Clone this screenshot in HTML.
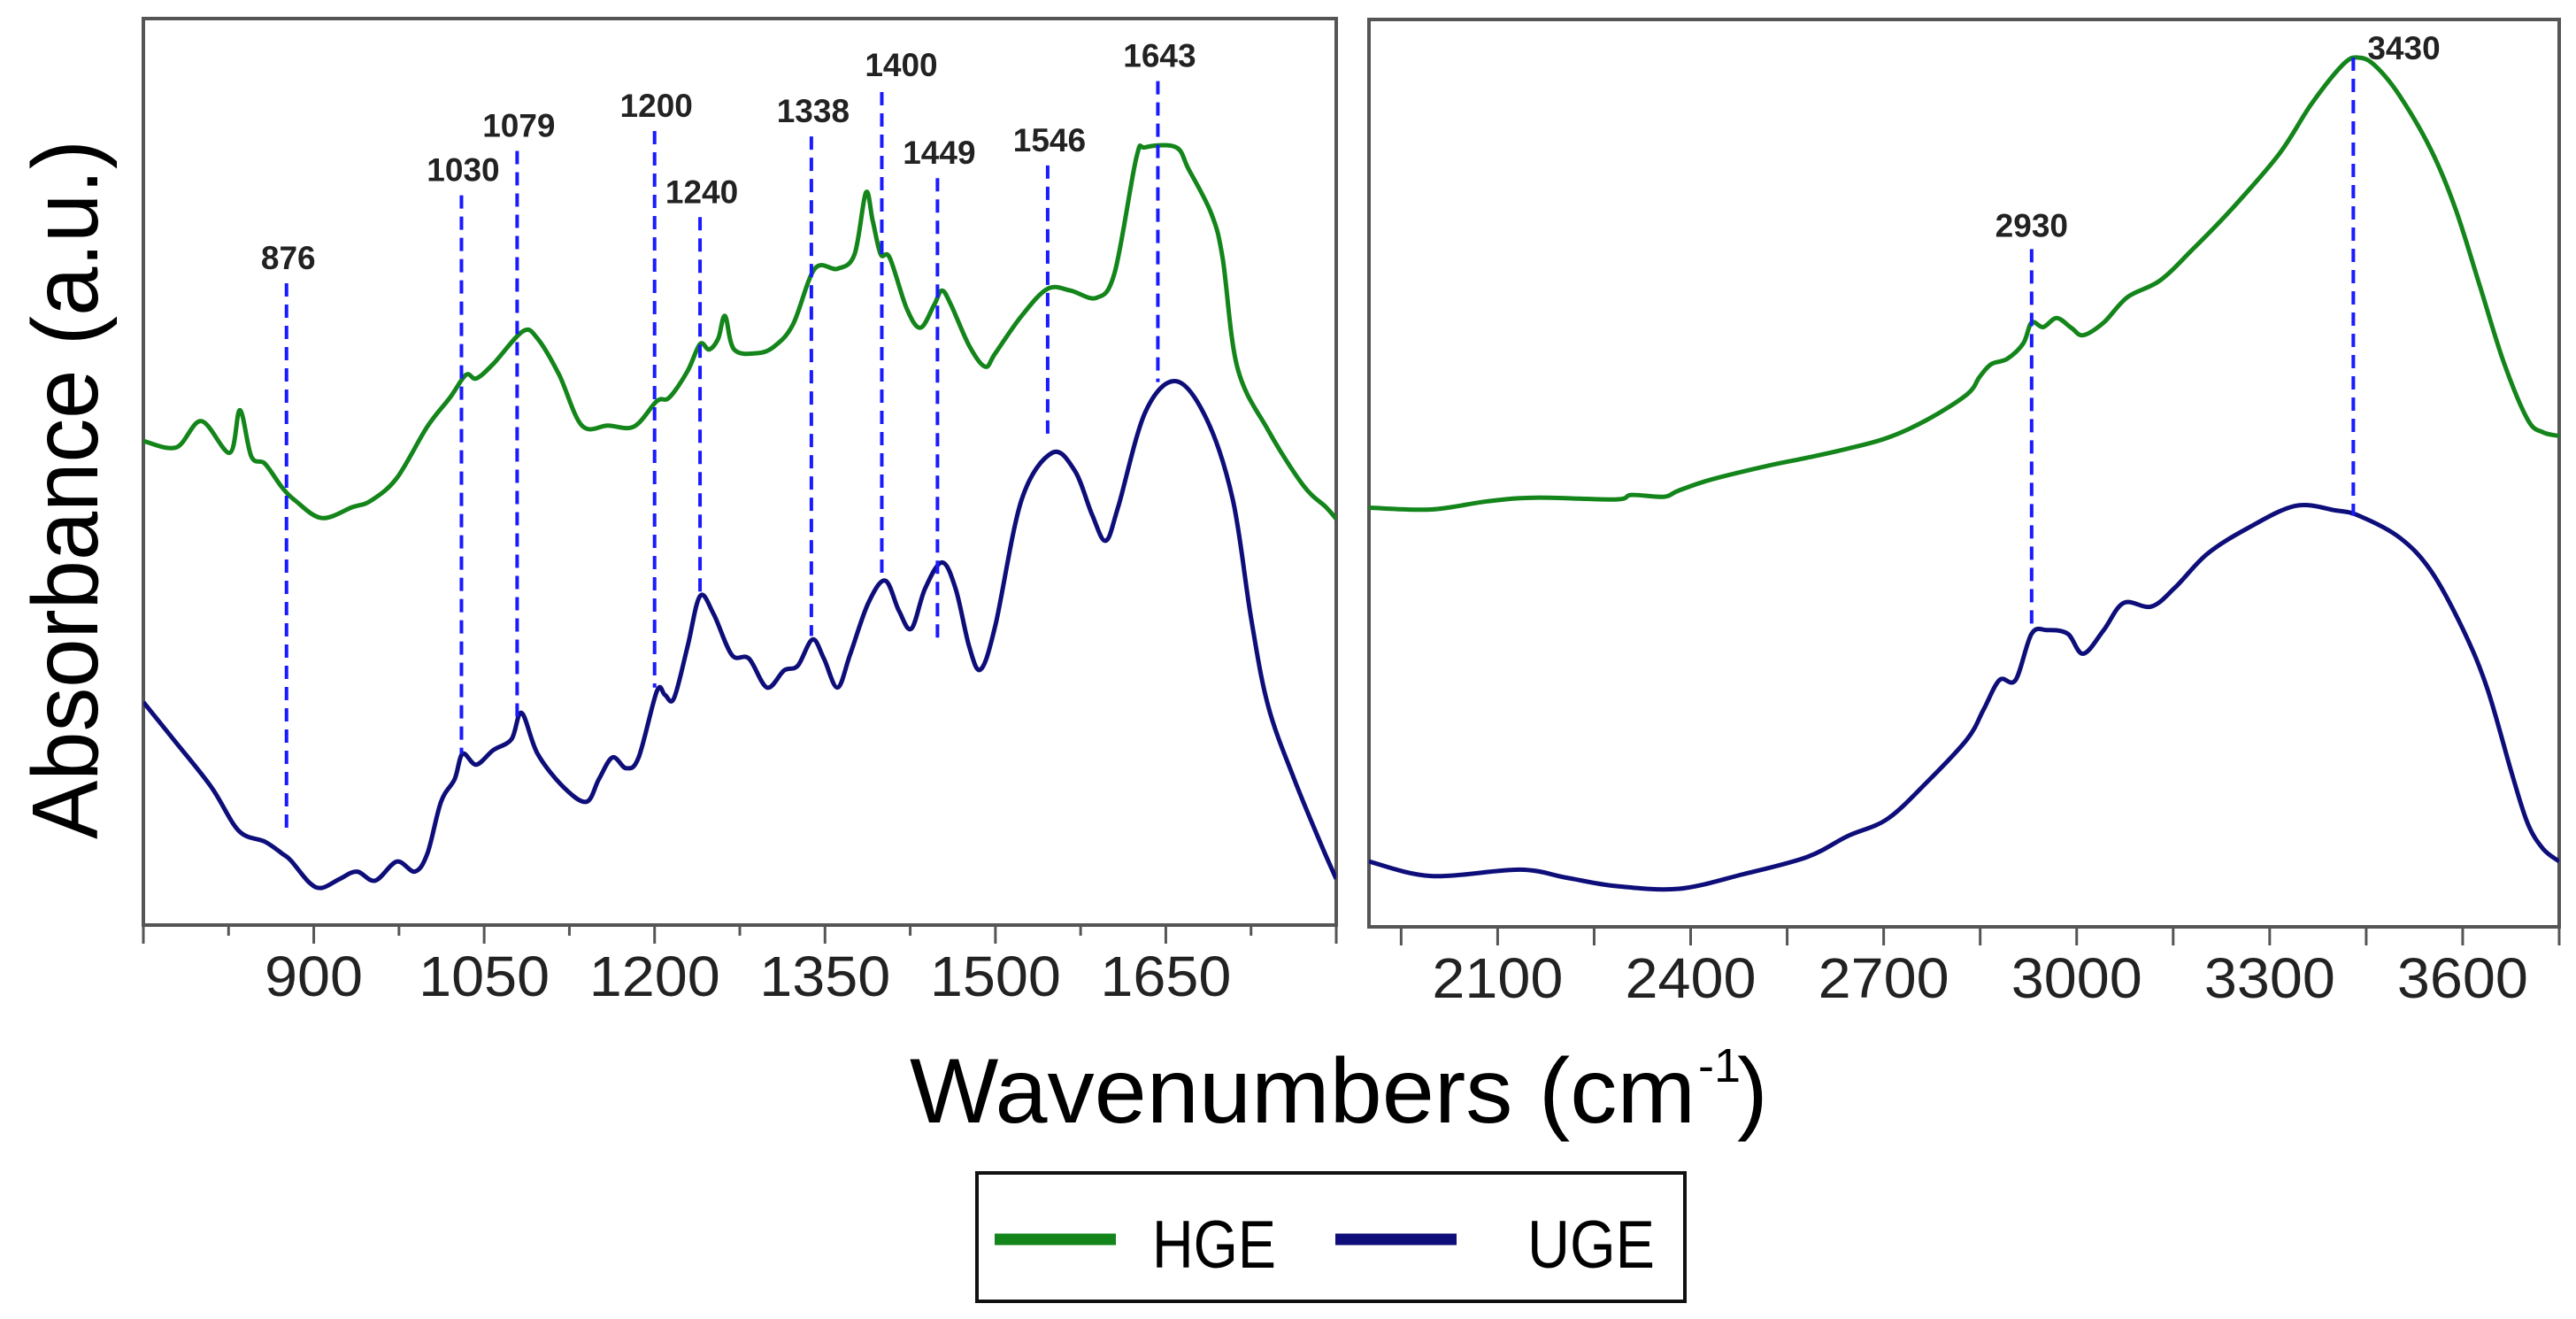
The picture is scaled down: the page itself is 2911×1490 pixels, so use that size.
<!DOCTYPE html>
<html>
<head>
<meta charset="utf-8">
<style>
html,body{margin:0;padding:0;background:#fff;}
svg{display:block;font-family:"Liberation Sans",sans-serif;}
</style>
</head>
<body>
<svg id="chart" width="2911" height="1490" viewBox="0 0 2911 1490" xmlns="http://www.w3.org/2000/svg">
  <rect x="0" y="0" width="2911" height="1490" fill="#fff"/>
  <g id="left-panel"></g>
  <g id="right-panel"></g>
  <text x="0" y="0" transform="translate(110,553) rotate(-90)" text-anchor="middle" font-size="106" fill="#000" textLength="790" lengthAdjust="spacingAndGlyphs">Absorbance (a.u.)</text>
  <text x="1028" y="1268" font-size="104" fill="#000" textLength="888" lengthAdjust="spacingAndGlyphs">Wavenumbers (cm</text>
  <text x="1919" y="1222" font-size="54" fill="#000">-1</text>
  <text x="1963" y="1268" font-size="104" fill="#000">)</text>
  <g>
    <rect x="1104" y="1325" width="800" height="145" fill="#fff" stroke="#111" stroke-width="4"/>
    <line x1="1124" y1="1400" x2="1261" y2="1400" stroke="#13851a" stroke-width="13"/>
    <text x="1302" y="1432" font-size="76" fill="#000" textLength="140" lengthAdjust="spacingAndGlyphs">HGE</text>
    <line x1="1509" y1="1400" x2="1646" y2="1400" stroke="#0e0e7a" stroke-width="13"/>
    <text x="1726" y="1432" font-size="76" fill="#000" textLength="144" lengthAdjust="spacingAndGlyphs">UGE</text>
  </g>
</svg>
<script>
// ---------- data: left panel ----------
const leftHgeX = [750,779,801,826,835,845,857,872,884,907,934,950,973,1000,1020,1034,1043,1058,1084,1097,1116,1136,1159,1182,1202,1213,1229,1240,1248,1256,1262,1270,1291,1306,1322,1341,1361,1376,1386,1392,1399,1407,1422,1434,1446,1453,1461,1477,1491,1500,1523,1546,1566,1589,1605,1624,1632,1659,1670,1690,1700,1713,1740,1771,1791,1800];
const leftHgeY = [53.4,52.7,55.6,52.1,56.8,51.7,50.9,48.3,46.8,44.9,46.1,46.8,49.3,55.0,58.2,60.7,60.3,61.9,65.5,64.7,60.7,55.1,55.1,55.0,57.8,58.2,61.1,64.1,63.5,64.7,67.2,63.5,63.1,63.9,66.3,72.4,72.4,74.0,80.8,77.7,74.0,73.6,68.0,65.9,68.4,70.0,68.4,63.9,61.6,63.1,67.2,70.2,70.0,69.2,72.0,84.6,85.8,85.8,83.4,78.5,73.6,61.5,54.6,48.5,46.1,44.8];
const leftUgeX = [750,779,810,834,857,872,880,896,907,923,938,954,973,989,1000,1012,1024,1031,1043,1058,1074,1083,1097,1120,1140,1151,1163,1175,1186,1202,1209,1217,1229,1240,1252,1268,1283,1299,1314,1326,1339,1349,1361,1372,1388,1403,1415,1426,1438,1453,1465,1477,1487,1500,1523,1550,1570,1585,1597,1608,1632,1659,1686,1709,1725,1740,1763,1787,1800];
const leftUgeY = [24.6,20.1,15.2,10.4,9.2,7.9,7.1,4.7,4.1,5.1,5.9,4.9,7.0,5.9,7.9,13.6,16.1,18.9,17.7,19.3,20.5,23.4,18.9,15.2,13.6,16.1,18.5,17.3,18.5,25.8,25.4,25.0,30.7,36.3,34.3,29.8,29.4,26.2,28.1,28.6,31.5,29.4,26.2,29.8,35.5,38.0,34.7,32.7,37.1,40.0,37.1,30.7,28.2,33.1,46.9,52.1,50.1,45.3,42.4,46.1,56.6,60.0,55.8,46.9,33.9,24.2,16.1,8.8,5.1];
const leftTicks = [750,825,900,975,1050,1125,1200,1275,1350,1425,1500,1575,1650,1725,1800];
const leftTickLabels = ["900","1050","1200","1350","1500","1650"];
const leftPeaks = [876,1030,1079,1200,1240,1338,1400,1449,1546,1643];
const leftPeakTop = [70.8,80.5,85.4,87.6,78.1,87.0,91.9,82.4,83.8,93.1];
const leftPeakBottom = [10.4,18.9,23.0,26.2,35.9,31.9,38.4,31.5,53.4,59.9];

// ---------- data: right panel ----------
const rightHgeX = [1900,1997,2084,2159,2283,2308,2358,2382,2432,2519,2581,2644,2706,2768,2830,2849,2867,2892,2917,2930,2948,2969,2992,3010,3042,3079,3129,3178,3241,3315,3365,3415,3439,3464,3502,3551,3589,3626,3663,3701,3725,3750];
const rightHgeY = [46.2,46.0,46.9,47.3,47.1,47.6,47.4,48.1,49.3,50.8,51.7,52.7,53.9,55.9,58.7,60.6,62.0,62.6,64.3,66.6,66.1,67.1,66.0,65.2,66.6,69.4,71.2,74.5,79.1,85.2,90.7,95.1,95.8,94.9,91.6,85.6,79.1,70.8,62.4,55.9,54.5,54.1];
const rightUgeX = [1900,1997,2134,2208,2283,2382,2482,2581,2644,2706,2768,2830,2855,2880,2905,2930,2954,2986,3010,3042,3073,3116,3153,3203,3265,3340,3402,3439,3502,3551,3601,3638,3676,3701,3725,3750];
const rightUgeY = [7.2,5.6,6.3,5.4,4.5,4.2,5.8,7.7,10.0,11.9,16.0,20.7,23.9,27.2,27.2,32.3,32.7,32.3,30.1,32.7,35.7,35.3,37.4,41.1,43.9,46.4,45.9,45.3,42.9,39.2,32.7,26.3,17.0,11.4,8.6,7.2];
const rightTicks = [1950,2100,2250,2400,2550,2700,2850,3000,3150,3300,3450,3600,3750];
const rightTickLabels = ["2100","2400","2700","3000","3300","3600"];
const rightPeaks = [2930,3430];
const rightPeakTop = [74.7,95.8];
const rightPeakBottom = [33.2,45.3];

const NS = "http://www.w3.org/2000/svg";
function mk(tag, attrs, parent){
  const e = document.createElementNS(NS, tag);
  for (const k in attrs) e.setAttribute(k, attrs[k]);
  parent.appendChild(e);
  return e;
}
function makeAxis(x0, x1, px0, px1){ return v => px0 + (v - x0) / (x1 - x0) * (px1 - px0); }
function smoothPath(xs, ys, fx, fy){
  const P = xs.map((x,i)=>[fx(x), fy(ys[i])]);
  let d = "M" + P[0][0].toFixed(1) + "," + P[0][1].toFixed(1);
  for (let i=0;i<P.length-1;i++){
    const p0 = P[Math.max(0,i-1)], p1 = P[i], p2 = P[i+1], p3 = P[Math.min(P.length-1,i+2)];
    const c1 = [p1[0]+(p2[0]-p0[0])/6, p1[1]+(p2[1]-p0[1])/6];
    const c2 = [p2[0]-(p3[0]-p1[0])/6, p2[1]-(p3[1]-p1[1])/6];
    d += " C"+c1[0].toFixed(1)+","+c1[1].toFixed(1)+" "+c2[0].toFixed(1)+","+c2[1].toFixed(1)+" "+p2[0].toFixed(1)+","+p2[1].toFixed(1);
  }
  return d;
}

function buildPanel(g, cfg){
  const fx = makeAxis(cfg.xmin, cfg.xmax, cfg.left, cfg.right);
  const fy = makeAxis(0, 100, cfg.bottom, cfg.top);
  const frame = mk("rect", {x:cfg.left, y:cfg.top, width:cfg.right-cfg.left, height:cfg.bottom-cfg.top, fill:"none", stroke:"#555", "stroke-width":4}, g);
  
  
  cfg.ticks.forEach(t => {
    const major = cfg.labels.includes(String(t)) || (t - cfg.majorBase) % 150 === 0;
    const tk = mk("line", {x1:fx(t), x2:fx(t), y1:cfg.bottom, y2:cfg.bottom + (major ? 21 : 12), stroke:"#555", "stroke-width":3}, g);
    
    
  });
  cfg.labels.forEach(l => {
    const tl = mk("text", {x:fx(Number(l)), y:cfg.bottom+80, "text-anchor":"middle", "font-size":64, fill:"#222", textLength:l.length*37, lengthAdjust:"spacingAndGlyphs"}, g);
    tl.textContent = l;
    
    
  });
  const clipId = cfg.name + "-clip";
  const cp = mk("clipPath", {id:clipId}, g);
  mk("rect", {x:cfg.left, y:cfg.top, width:cfg.right-cfg.left, height:cfg.bottom-cfg.top}, cp);
  const hge = mk("path", {d:smoothPath(cfg.hx, cfg.hy, fx, fy), fill:"none", stroke:"#13851a", "stroke-width":5, "stroke-linejoin":"round", "clip-path":"url(#"+clipId+")"}, g);
  
  
  const uge = mk("path", {d:smoothPath(cfg.ux, cfg.uy, fx, fy), fill:"none", stroke:"#0e0e7a", "stroke-width":5, "stroke-linejoin":"round", "clip-path":"url(#"+clipId+")"}, g);
  
  
  cfg.peaks.forEach((p,i) => {
    const x = fx(p);
    const ln = mk("line", {x1:x, x2:x, y1:fy(cfg.ptop[i]), y2:fy(cfg.pbot[i]), stroke:"#1a1aff", "stroke-width":4, "stroke-dasharray":"15,9"}, g);
    
    
    const off = cfg.labelOffset(p);
    const tx = mk("text", {x:x+off.dx, y:fy(cfg.ptop[i]) - off.dy, "text-anchor":off.anchor, "font-size":37, "font-weight":"bold", fill:"#222"}, g);
    tx.textContent = String(p);
    
    
  });
}

buildPanel(document.getElementById("left-panel"), {
  name:"left", xmin:750, xmax:1800, left:162, right:1510, top:21, bottom:1045, majorBase:750,
  ticks:leftTicks, labels:leftTickLabels, hx:leftHgeX, hy:leftHgeY, ux:leftUgeX, uy:leftUgeY,
  peaks:leftPeaks, ptop:leftPeakTop, pbot:leftPeakBottom,
  labelOffset: p => p === 1400 ? {dx:22, dy:18, anchor:"middle"} : {dx:2, dy:16, anchor:"middle"}
});
buildPanel(document.getElementById("right-panel"), {
  name:"right", xmin:1900, xmax:3750, left:1547, right:2892, top:22, bottom:1047, majorBase:1800,
  ticks:rightTicks, labels:rightTickLabels, hx:rightHgeX, hy:rightHgeY, ux:rightUgeX, uy:rightUgeY,
  peaks:rightPeaks, ptop:rightPeakTop, pbot:rightPeakBottom,
  labelOffset: p => p === 3430 ? {dx:16, dy:-2, anchor:"start"} : {dx:0, dy:14, anchor:"middle"}
});
</script>
</body>
</html>
